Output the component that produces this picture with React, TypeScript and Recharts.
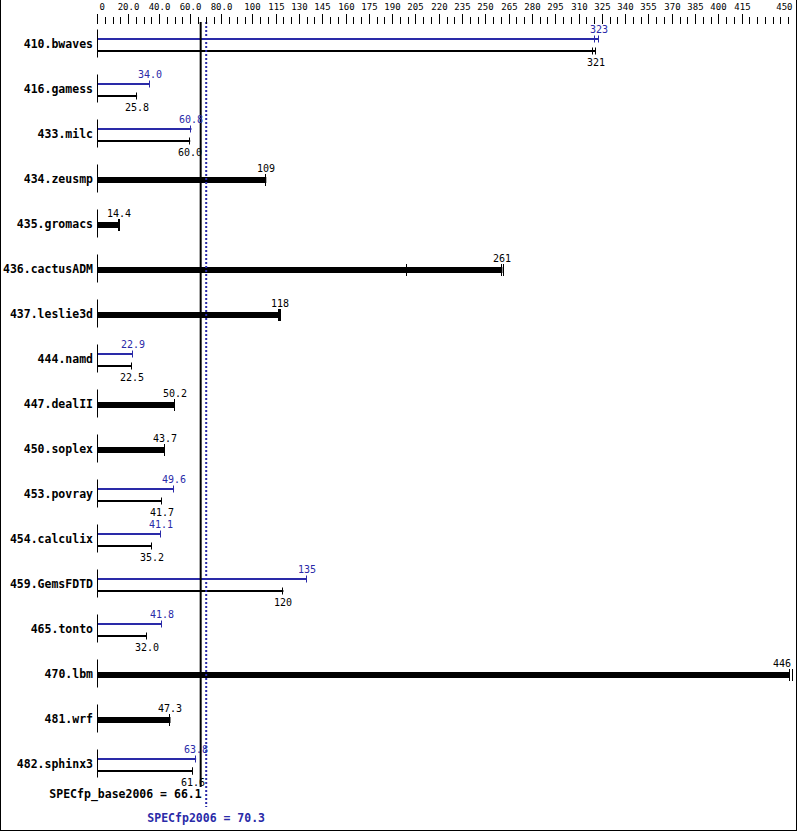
import { ComposedChart, Bar, XAxis, YAxis, ReferenceLine, LabelList } from "recharts";

const BENCHMARKS = [
  "410.bwaves", "416.gamess", "433.milc", "434.zeusmp", "435.gromacs", "436.cactusADM",
  "437.leslie3d", "444.namd", "447.dealII", "450.soplex", "453.povray", "454.calculix",
  "459.GemsFDTD", "465.tonto", "470.lbm", "481.wrf", "482.sphinx3",
];

// base ratios (median run)
const BASE = [321, 25.8, 60.0, 109, 14.4, 261, 118, 22.5, 50.2, 43.7, 41.7, 35.2, 120, 32.0, 446, 47.3, 61.6];
// peak ratios, null where only base was reported
const PEAK = [323, 34.0, 60.8, null, null, null, null, 22.9, null, null, 49.6, 41.1, 135, 41.8, null, null, 63.8];

// the other two runs, where they show apart from the median
const BASE_RUN_LO = [319.5, null, null, null, 14.3, 199.5, 117.3, null, null, null, null, null, null, null, null, null, null];
const BASE_RUN_HI = [null, null, null, null, 15.0, 262.3, 118.6, null, null, null, null, null, null, null, 448, null, 62.0];
const PEAK_RUN_LO = [320.5, null, null, null, null, null, null, null, null, null, null, null, null, null, null, null, null];
const PEAK_RUN_HI = [null, null, null, null, null, null, null, null, null, null, null, null, null, null, null, null, null];

const SPEC_BASE = 66.1;
const SPEC_PEAK = 70.3;

const TICK_LABELS = [0, 20, 40, 60, 80, 100, 115, 130, 145, 160, 175, 190, 205, 220, 235, 250, 265, 280, 295, 310, 325, 340, 355, 370, 385, 400, 415, 450];
const X_MAX = 450;
const MINOR_STEP = 5;
const TICKS = Array.from({ length: X_MAX / MINOR_STEP + 1 }, (_, i) => i * MINOR_STEP);

const BLUE = "#2a2aa8";
const MONO = "'DejaVu Sans Mono', monospace";

const rows = BENCHMARKS.map((name, i) => {
  const pair = PEAK[i] != null;
  return {
    name,
    peak: pair ? PEAK[i] : null,
    base: pair ? BASE[i] : null,
    single: pair ? null : BASE[i],
    peakRunA: pair ? PEAK_RUN_LO[i] : null,
    peakRunB: pair ? PEAK_RUN_HI[i] : null,
    baseRunA: pair ? BASE_RUN_LO[i] : null,
    baseRunB: pair ? BASE_RUN_HI[i] : null,
    singleRunA: pair ? null : BASE_RUN_LO[i],
    singleRunB: pair ? null : BASE_RUN_HI[i],
  };
});

function fmt(v: number) {
  return v >= 100 ? String(Math.round(v)) : v.toFixed(1);
}

const barShape = (key: string, color: string, half: number) => (p: any) => {
  const v = p.payload?.[key];
  if (v == null) return <g />;
  const cy = p.y + p.height / 2;
  const ex = Math.round(p.x + p.width);
  return (
    <g>
      <rect x={p.x} y={p.y} width={Math.max(p.width, 0)} height={p.height} fill={color} />
      <line x1={ex - 0.5} x2={ex - 0.5} y1={cy - half} y2={cy + half} stroke={color} strokeWidth={1} />
    </g>
  );
};

const valueLabel = (color: string, dy: number) => (p: any) => {
  const v = p.value;
  if (v == null || v === "") return null;
  const vb = p.viewBox || p;
  const cy = vb.y + vb.height / 2;
  const ex = Math.round(vb.x + vb.width);
  const nearEdge = Number(v) > 400;
  return (
    <text
      x={nearEdge ? ex + 1 : ex}
      y={cy + dy}
      textAnchor={nearEdge ? "end" : "middle"}
      fill={color}
      fontFamily={MONO}
      fontSize={10}
    >
      {fmt(Number(v))}
    </text>
  );
};

const runShape = (key: string, color: string, half: number) => (p: any) => {
  const v = p.payload?.[key];
  if (v == null) return <g />;
  const cy = p.y + p.height / 2;
  const ex = Math.round(p.x + p.width);
  return <line x1={ex - 0.5} x2={ex - 0.5} y1={cy - half} y2={cy + half} stroke={color} strokeWidth={1} />;
};

function TopTick(p: any) {
  const v = p.payload.value;
  const labelled = TICK_LABELS.includes(v);
  const x = Math.round(p.x) + 0.5;
  let anchor: "start" | "middle" | "end" = "middle";
  let tx = x;
  if (v === 0) { anchor = "start"; tx = x + 2; }
  if (v === X_MAX) { anchor = "end"; tx = x - 4; }
  return (
    <g>
      <line x1={x} x2={x} y1={p.y - (labelled ? 8 : 5)} y2={p.y + 2} stroke="#000" strokeWidth={1} />
      {labelled && (
        <text x={tx} y={p.y - 12} textAnchor={anchor} fontFamily={MONO} fontSize={9} fill="#000">
          {v > 0 && v < 100 ? v.toFixed(1) : String(v)}
        </text>
      )}
    </g>
  );
}

function RowTick(p: any) {
  const x = Math.round(p.x) + 0.5;
  return (
    <g>
      <line x1={x} x2={x} y1={p.y - 15} y2={p.y + 13} stroke="#000" strokeWidth={1} />
      <text x={p.x - 4} y={p.y + 3} textAnchor="end" fontFamily={MONO} fontWeight="bold" fontSize={11.5} fill="#000">
        {p.payload.value}
      </text>
    </g>
  );
}

const baseLine = (p: any) => {
  const top = Math.min(p.y1, p.y2);
  const bottom = Math.max(p.y1, p.y2);
  return (
    <g>
      <line x1={p.x1 + 1} x2={p.x2 + 1} y1={top} y2={bottom} stroke="#000" strokeWidth={2} />
      <text x={p.x1 + 2} y={bottom + 11} textAnchor="end" fontFamily={MONO} fontWeight="bold" fontSize={11.5} fill="#000">
        {`SPECfp_base2006 = ${SPEC_BASE}`}
      </text>
    </g>
  );
};

const peakLine = (p: any) => {
  const top = Math.min(p.y1, p.y2);
  const bottom = Math.max(p.y1, p.y2);
  return (
    <g>
      <line x1={p.x1} x2={p.x2} y1={top} y2={bottom + 20} stroke={BLUE} strokeWidth={2} strokeDasharray="2 2" />
      <text x={p.x1} y={bottom + 35} textAnchor="middle" fontFamily={MONO} fontWeight="bold" fontSize={11.5} fill={BLUE}>
        {`SPECfp2006 = ${SPEC_PEAK}`}
      </text>
    </g>
  );
};

export default function App() {
  return (
    <div style={{ position: "absolute", left: 0, top: 0, width: 799, height: 831, background: "#fff" }}>
      <ComposedChart
        width={799}
        height={831}
        data={rows}
        layout="vertical"
        barGap={2}
        margin={{ top: 0, right: 3, bottom: 44, left: 0 }}
      >
        <XAxis
          type="number"
          orientation="top"
          domain={[0, X_MAX]}
          ticks={TICKS}
          interval={0}
          height={22}
          tickSize={0}
          tickMargin={0}
          axisLine={false}
          tickLine={false}
          tick={<TopTick />}
          allowDataOverflow
        />
        <YAxis
          yAxisId="bars"
          type="category"
          dataKey="name"
          width={97}
          interval={0}
          tickSize={0}
          tickMargin={0}
          axisLine={false}
          tickLine={false}
          tick={<RowTick />}
        />
        <YAxis yAxisId="runsA" type="category" dataKey="name" hide />
        <YAxis yAxisId="runsB" type="category" dataKey="name" hide />

        <ReferenceLine yAxisId="bars" x={SPEC_PEAK} shape={peakLine} />
        <ReferenceLine yAxisId="bars" x={SPEC_BASE} shape={baseLine} />

        <Bar yAxisId="bars" dataKey="peak" barSize={2} shape={barShape("peak", BLUE, 3.5)} isAnimationActive={false}>
          <LabelList dataKey="peak" content={valueLabel(BLUE, -6.5)} />
        </Bar>
        <Bar yAxisId="bars" dataKey="single" barSize={6} shape={barShape("single", "#000", 6)} isAnimationActive={false}>
          <LabelList dataKey="single" content={valueLabel("#000", -8.5)} />
        </Bar>
        <Bar yAxisId="bars" dataKey="base" barSize={2} shape={barShape("base", "#000", 3.5)} isAnimationActive={false}>
          <LabelList dataKey="base" content={valueLabel("#000", 15)} />
        </Bar>

        <Bar yAxisId="runsA" dataKey="peakRunA" barSize={2} shape={runShape("peakRunA", BLUE, 3.5)} isAnimationActive={false} />
        <Bar yAxisId="runsA" dataKey="singleRunA" barSize={6} shape={runShape("singleRunA", "#000", 6)} isAnimationActive={false} />
        <Bar yAxisId="runsA" dataKey="baseRunA" barSize={2} shape={runShape("baseRunA", "#000", 3.5)} isAnimationActive={false} />

        <Bar yAxisId="runsB" dataKey="peakRunB" barSize={2} shape={runShape("peakRunB", BLUE, 3.5)} isAnimationActive={false} />
        <Bar yAxisId="runsB" dataKey="singleRunB" barSize={6} shape={runShape("singleRunB", "#000", 6)} isAnimationActive={false} />
        <Bar yAxisId="runsB" dataKey="baseRunB" barSize={2} shape={runShape("baseRunB", "#000", 3.5)} isAnimationActive={false} />
      </ComposedChart>
      <div
        style={{
          position: "absolute",
          left: 0,
          top: 0,
          width: 797,
          height: 831,
          boxSizing: "border-box",
          borderLeft: "1px solid #000",
          borderRight: "1px solid #000",
          borderBottom: "1px solid #000",
          pointerEvents: "none",
        }}
      />
    </div>
  );
}
